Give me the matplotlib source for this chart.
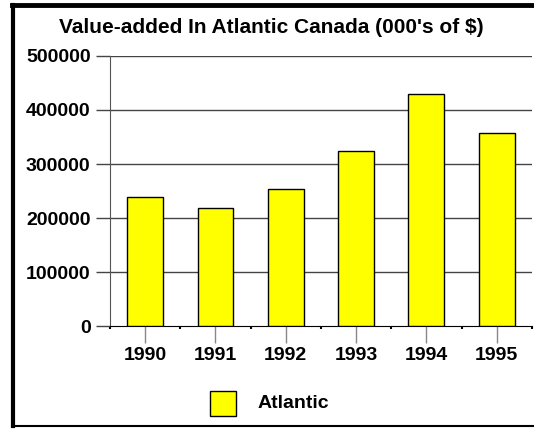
import matplotlib.pyplot as plt
import matplotlib.patches as mpatches
import numpy as np

plt.rcParams['font.family'] = ['Liberation Sans', 'DejaVu Sans']
plt.rcParams['font.weight'] = 'bold'

years = ["1990", "1991", "1992", "1993", "1994", "1995"]
atlantic = [238000, 219000, 254000, 325000, 430000, 358000]
yticks = [0, 100000, 200000, 300000, 400000, 500000]

fig = plt.figure(figsize=(5.34, 4.29), dpi=100)
ax = fig.add_axes([0.206, 0.240, 0.790, 0.6295])

x = np.arange(len(years))
ax.bar(x, atlantic, width=0.51, color="#ffff00", edgecolor="black", linewidth=1, zorder=3)

ax.set_xlim(-0.5, 5.5)
ax.set_ylim(0, 500000)
ax.set_yticks(yticks)
ax.set_yticklabels([str(v) for v in yticks], fontsize=14, fontweight="bold")
ax.set_xticks(x)
ax.set_xticklabels(years, fontsize=14, fontweight="bold")
ax.set_xticks(np.arange(-0.5, 6, 1), minor=True)

# gridlines
for v in yticks[1:]:
    ax.axhline(v, color="#444444", linewidth=1, zorder=1)

for s in ["top", "right"]:
    ax.spines[s].set_visible(False)
ax.spines["left"].set_color("#555555")
ax.spines["bottom"].set_color("black")
ax.tick_params(axis="y", length=10, width=1, color="#444444", pad=4)
ax.tick_params(axis="x", which="major", length=12, width=1, color="#888888", pad=3)
ax.tick_params(axis="x", which="minor", length=2, width=1.5, color="black")

fig.text(0.508, 0.936, "Value-added In Atlantic Canada (000's of $)",
         ha="center", va="center", fontsize=15, fontweight="bold")

# legend
fig.patches.append(mpatches.Rectangle((210 / 534, 1 - 416 / 429), 26 / 534, 25 / 429,
                                      transform=fig.transFigure, facecolor="#ffff00",
                                      edgecolor="black", linewidth=1))
fig.text(258 / 534, 1 - 403 / 429, "Atlantic", ha="left", va="center",
         fontsize=14, fontweight="bold")

# outer frame (left, top, bottom)
fig.add_artist(plt.Line2D([13 / 534, 13 / 534], [1 - 426 / 429, 1 - 4.5 / 429],
                          transform=fig.transFigure, color="black", linewidth=3))
fig.add_artist(plt.Line2D([12 / 534, 1], [1 - 4.5 / 429, 1 - 4.5 / 429],
                          transform=fig.transFigure, color="black", linewidth=3.5))
fig.add_artist(plt.Line2D([12 / 534, 1], [1 - 426 / 429, 1 - 426 / 429],
                          transform=fig.transFigure, color="black", linewidth=1.5))

fig.savefig("out.png", dpi=100)
